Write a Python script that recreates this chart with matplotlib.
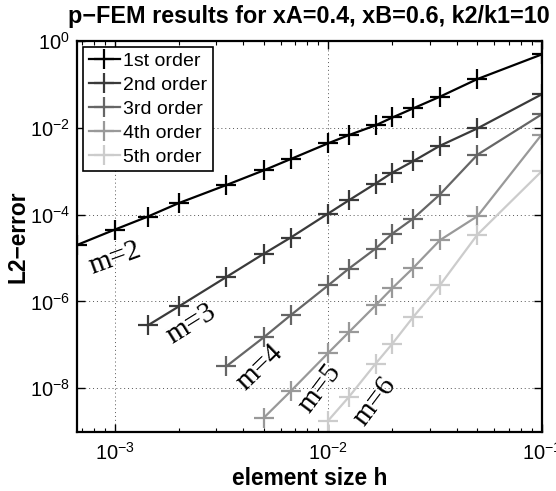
import numpy as np
import matplotlib
matplotlib.use("Agg")
import matplotlib.pyplot as plt
from matplotlib.ticker import LogLocator, NullLocator, NullFormatter

plt.rcParams['font.family'] = ['Liberation Sans', 'DejaVu Sans']
plt.rcParams['mathtext.fontset'] = 'custom'
plt.rcParams['mathtext.rm'] = 'Liberation Sans'
plt.rcParams['mathtext.it'] = 'Liberation Sans'

# number of elements -> element size h = 1/N
N = [1500, 1000, 700, 500, 300, 200, 150, 100, 80, 60, 50, 40, 30, 20, 10]

err1 = [2.0e-5, 4.5e-5, 9.0e-5, 1.85e-4, 4.8e-4, 1.05e-3, 1.9e-3, 4.4e-3,
        6.8e-3, 1.14e-2, 1.73e-2, 2.8e-2, 5.2e-2, 0.133, 0.49]
err2 = [2.8e-7, 7.7e-7, 3.65e-6, 1.26e-5, 2.95e-5, 1.06e-4, 2.14e-4, 5.2e-4,
        9.3e-4, 1.7e-3, 3.85e-3, 9.7e-3, 5.9e-2]
err3 = [3.2e-8, 1.5e-7, 4.8e-7, 2.35e-6, 5.7e-6, 1.65e-5, 3.67e-5, 8.1e-5,
        2.9e-4, 2.4e-3, 2.04e-2]
err4 = [2.1e-9, 8.5e-9, 6.5e-8, 1.96e-7, 8.1e-7, 2.04e-6, 5.9e-6, 2.57e-5,
        9.2e-5, 7.0e-3]
err5 = [1.8e-9, 6.3e-9, 3.67e-8, 1.07e-7, 4.37e-7, 2.35e-6, 3.47e-5, 1.0e-3]

labels = ['1st order', '2nd order', '3rd order', '4th order', '5th order']
colors = ['#000000', '#3a3a3a', '#666666', '#999999', '#cccccc']

rate_labels = ['m=2', 'm=3', 'm=4', 'm=5', 'm=6']
rate_pos = [(1.01e-3, 1.0e-5), (2.3e-3, 3.0e-7), (4.8e-3, 3.0e-8),
            (9.2e-3, 9.9e-9), (1.66e-2, 5.0e-9)]
rate_rot = [20, 32, 44, 53, 53]

h = 1.0 / np.array(N, dtype=float)
errs = [err1, err2, err3, err4, err5]

fig = plt.figure(figsize=(5.56, 4.91), dpi=100)
ax = fig.add_axes([0.1385, 0.1208, 0.8358, 0.7957])

for e, lab, c in zip(errs, labels, colors):
    hh = h[len(h) - len(e):]
    ax.loglog(hh, e, '-', marker='+', color=c, lw=1.6, ms=14, mew=1.6, label=lab)

ax.set_xlim(h.min(), h.max())
ax.set_ylim(1e-9, 1)

ax.xaxis.set_major_locator(LogLocator(base=10, numticks=10))
ax.xaxis.set_minor_locator(LogLocator(base=10, subs=np.arange(2, 10), numticks=20))
ax.xaxis.set_minor_formatter(NullFormatter())
ax.set_yticks([1e0, 1e-2, 1e-4, 1e-6, 1e-8])
ax.yaxis.set_minor_locator(NullLocator())

ax.tick_params(which='both', direction='in', top=True, right=True, labelsize=14.5)
ax.tick_params(which='major', length=6, width=1)
ax.tick_params(which='minor', length=3, width=0.8)
ax.tick_params(axis='x', pad=7)
ax.tick_params(axis='y', pad=5)
for s in ax.spines.values():
    s.set_linewidth(1.6)

ax.grid(True, which='major', linestyle=(0, (1, 3)), color='#555555', lw=0.7)

for (x, y), t, r in zip(rate_pos, rate_labels, rate_rot):
    ax.text(x, y, t, rotation=r, ha='center', va='center', fontsize=21,
            family='Liberation Serif', rotation_mode='anchor')

leg = ax.legend(loc='upper left', fontsize=14, handlelength=1.6,
                handletextpad=0.15, labelspacing=0.32, borderpad=0.3,
                borderaxespad=0.3, fancybox=False, framealpha=1,
                edgecolor='black')
leg.get_frame().set_linewidth(1.2)

ax.set_title('p\u2212FEM results for xA=0.4, xB=0.6, k2/k1=10',
             fontsize=16.8, fontweight='bold', pad=13)
ax.set_xlabel('element size h', fontsize=16.4, fontweight='bold', labelpad=3)
ax.set_ylabel('L2\u2212error', fontsize=16.4, fontweight='bold', labelpad=0)

fig.savefig('out.png', dpi=100)
